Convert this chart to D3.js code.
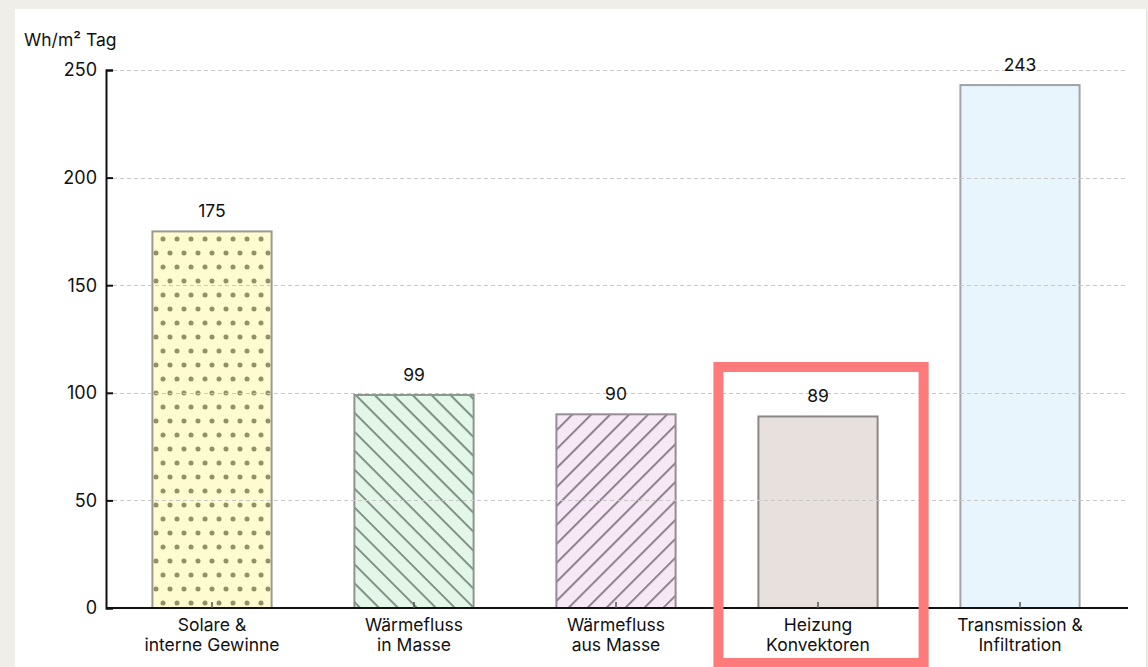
<!DOCTYPE html>
<html>
<head>
<meta charset="utf-8">
<script src="https://cdn.jsdelivr.net/npm/d3@7"></script>
<style>
  html, body { margin: 0; padding: 0; background: #efeee9; }
  svg { display: block; font-family: Inter, "Noto Sans", sans-serif; }
</style>
</head>
<body>
<svg id="chart" width="1148" height="667"></svg>
<script>
// Daily energy balance per m² (Wh/m² Tag)
const categories = [
  ["Solare &", "interne Gewinne"],
  ["Wärmefluss", "in Masse"],
  ["Wärmefluss", "aus Masse"],
  ["Heizung", "Konvektoren"],
  ["Transmission &", "Infiltration"]
];
const values = [175, 99, 90, 89, 243];
const yTicks = [0, 50, 100, 150, 200, 250];
const unitLabel = "Wh/m² Tag";
const highlighted = 3;

const svg = d3.select("#chart");

// white panel
svg.append("rect").attr("x", 15).attr("y", 9).attr("width", 1131).attr("height", 670).attr("fill", "#fff");
svg.append("line").attr("x1", 1146.5).attr("x2", 1146.5).attr("y1", 9).attr("y2", 667).attr("stroke", "#e4e4e0");

const x = d3.scaleBand().domain(d3.range(values.length)).range([111, 1121]).paddingInner(0.4).paddingOuter(0.2);
const y = d3.scaleLinear().domain([0, 250]).range([608, 70]);

// patterns
const defs = svg.append("defs");
const dots = defs.append("pattern").attr("id", "dots").attr("patternUnits", "userSpaceOnUse")
  .attr("width", 14).attr("height", 28).attr("x", 0).attr("y", 0);
dots.append("rect").attr("width", 14).attr("height", 28).attr("fill", "#fdfbcf");
[[2, 1], [9, 15]].forEach(([cx, cy]) => {
  [0, 14].forEach(ox => [0, 28].forEach(oy =>
    dots.append("circle").attr("cx", cx + ox).attr("cy", cy + oy).attr("r", 2.5).attr("fill", "#939163")));
});
// back-slash hatch (top-left to bottom-right)
const hatchA = defs.append("pattern").attr("id", "hatchIn").attr("patternUnits", "userSpaceOnUse")
  .attr("width", 13.4).attr("height", 13.4).attr("patternTransform", "rotate(45)");
hatchA.append("rect").attr("width", 13.4).attr("height", 13.4).attr("fill", "#e4f6e8");
hatchA.append("line").attr("x1", 0).attr("x2", 13.4).attr("y1", 1).attr("y2", 1).attr("stroke", "#7e9283").attr("stroke-width", 2);
// forward-slash hatch (bottom-left to top-right)
const hatchB = defs.append("pattern").attr("id", "hatchOut").attr("patternUnits", "userSpaceOnUse")
  .attr("width", 13.4).attr("height", 13.4).attr("patternTransform", "rotate(-45)");
hatchB.append("rect").attr("width", 13.4).attr("height", 13.4).attr("fill", "#f7e8f6");
hatchB.append("line").attr("x1", 0).attr("x2", 13.4).attr("y1", 1).attr("y2", 1).attr("stroke", "#8f8290").attr("stroke-width", 2);

const fills = ["url(#dots)", "url(#hatchIn)", "url(#hatchOut)", "#e8e0dc", "#e8f5fc"];
const strokes = ["#9a9a90", "#8a988c", "#968c96", "#8a8686", "#9ea4a8"];

// bars
svg.append("g").selectAll("rect").data(values).join("rect")
  .attr("x", (d, i) => x(i) + 1)
  .attr("y", d => y(d))
  .attr("width", x.bandwidth() - 2)
  .attr("height", d => y(0) - y(d))
  .attr("fill", (d, i) => fills[i])
  .attr("stroke", (d, i) => strokes[i])
  .attr("stroke-width", 2);

// gridlines (drawn above bars)
svg.append("g").selectAll("line").data(yTicks.filter(t => t > 0)).join("line")
  .attr("x1", 113).attr("x2", 1126)
  .attr("y1", d => Math.round(y(d)) + 0.5).attr("y2", d => Math.round(y(d)) + 0.5)
  .attr("stroke", "#c8c8c8").attr("stroke-width", 1).attr("stroke-dasharray", "4,3");

// y axis
const yAxis = svg.append("g").attr("transform", "translate(106,0)")
  .call(d3.axisRight(y).tickValues(yTicks).tickSize(7).tickFormat(""));
yAxis.select(".domain").attr("stroke", "#111").attr("stroke-width", 2);
yAxis.selectAll(".tick line").attr("stroke", "#111").attr("stroke-width", 2);
svg.append("g").selectAll("text").data(yTicks).join("text")
  .attr("x", 97).attr("y", d => y(d)).attr("dy", "0.35em")
  .attr("text-anchor", "end").attr("font-size", 18).attr("fill", "#111").text(d => d);

// x axis
const xAxis = svg.append("g").attr("transform", "translate(0,608)")
  .call(d3.axisTop(x).tickSize(6).tickSizeOuter(0).tickFormat(""));
xAxis.select(".domain").attr("stroke", "#111").attr("stroke-width", 2).attr("d", "M106,0H1128");
xAxis.selectAll(".tick line").attr("stroke", "#555").attr("stroke-width", 1.5);

// category labels
const catG = svg.append("g");
categories.forEach((lines, i) => {
  const cx = x(i) + x.bandwidth() / 2;
  const t = catG.append("text").attr("x", cx).attr("y", 631)
    .attr("text-anchor", "middle").attr("font-size", 17.5).attr("fill", "#111");
  lines.forEach((l, k) => t.append("tspan").attr("x", cx).attr("dy", k === 0 ? 0 : 19.5).text(l));
});

// value labels
svg.append("g").selectAll("text").data(values).join("text")
  .attr("x", (d, i) => x(i) + x.bandwidth() / 2)
  .attr("y", d => y(d) - 14)
  .attr("text-anchor", "middle").attr("font-size", 17.5).attr("fill", "#111").text(d => d);

// unit label
svg.append("text").attr("x", 24).attr("y", 46).attr("font-size", 17.5).attr("fill", "#111").text(unitLabel);

// highlight frame
const hx = x(highlighted);
svg.append("rect")
  .attr("x", hx - 39).attr("y", 367)
  .attr("width", x.bandwidth() + 84).attr("height", 296)
  .attr("fill", "none").attr("stroke", "#ff7b7b").attr("stroke-width", 10);
</script>
</body>
</html>
